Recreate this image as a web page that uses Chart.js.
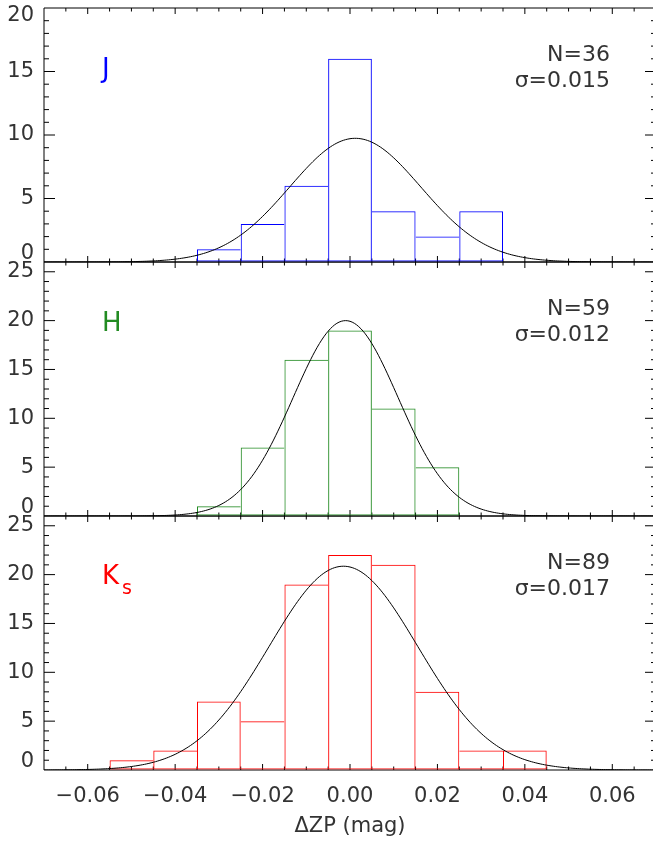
<!DOCTYPE html>
<html>
<head>
<meta charset="utf-8">
<script src="https://cdn.jsdelivr.net/npm/chart.js@4"></script>
<style>
  html, body { margin: 0; padding: 0; background: #fff; overflow: hidden; width: 653px; height: 842px; }
  #wrap { position: absolute; left: 0; top: 0; width: 656px; height: 850px; }
</style>
</head>
<body>
<div id="wrap"><canvas id="zp" width="656" height="850"></canvas></div>
<script>
// histogram bins (bin centres in mag) and counts per band
const jBins = [-0.03, -0.02, -0.01, 0.00, 0.01, 0.02, 0.03]
const jCounts = [1, 3, 6, 16, 4, 2, 4]
const hBins = [-0.03, -0.02, -0.01, 0.00, 0.01, 0.02]
const hCounts = [1, 7, 16, 19, 11, 5]
const kBins = [-0.05, -0.04, -0.03, -0.02, -0.01, 0.00, 0.01, 0.02, 0.03, 0.04]
const kCounts = [1, 2, 7, 5, 19, 22, 21, 8, 2, 2]

// gaussian fits: centre, sigma, peak height  (J, H, Ks)
const fitCentre = [0.0012, -0.0010, -0.0015]
const fitSigma = [0.015, 0.012, 0.017]
const fitPeak = [9.74, 20.0, 20.86]

const bandN = [36, 59, 89]
const bandColors = ['#0000ff', 'rgb(34,139,34)', '#ff0000']
const yMax = [20, 26, 26]

const xTickValues = [-0.06, -0.04, -0.02, 0.00, 0.02, 0.04, 0.06]
const xTickLabels = ['\u22120.06', '\u22120.04', '\u22120.02', '0.00', '0.02', '0.04', '0.06']
const yTickJ = [0, 5, 10, 15, 20]
const yTickHK = [0, 5, 10, 15, 20, 25]

const panelIds = ['yJ', 'yH', 'yK']
const FONT = '"DejaVu Sans", sans-serif'

function gaussCurve(i) {
    const pts = []
    for (let k = -140; k <= 140; k++) {
        const x = k * 0.0005
        const z = (x - fitCentre[i]) / fitSigma[i]
        pts.push({ x: x, y: fitPeak[i] * Math.exp(-0.5 * z * z) })
    }
    return pts
}

// one outline per shared bin edge: the taller bin draws it
function edgeWidths(counts) {
    return c => {
        const k = c.dataIndex, n = counts.length
        return {
            top: 1,
            bottom: 1,
            left: (k === 0 || counts[k] >= counts[k - 1]) ? 1 : 0,
            right: (k === n - 1 || counts[k] > counts[k + 1]) ? 1 : 0
        }
    }
}

function histSet(bins, counts, i) {
    return {
        type: 'bar',
        data: bins.map((b, k) => ({ x: b, y: counts[k] })),
        yAxisID: panelIds[i],
        backgroundColor: 'rgba(0,0,0,0)',
        borderColor: bandColors[i],
        borderWidth: edgeWidths(counts),
        borderSkipped: false,
        inflateAmount: 0,
        grouped: false,
        barPercentage: 1,
        categoryPercentage: 1
    }
}

function curveSet(i) {
    return {
        type: 'line',
        data: gaussCurve(i),
        yAxisID: panelIds[i],
        borderColor: '#000',
        borderWidth: 1,
        pointRadius: 0,
        tension: 0
    }
}

function yScale(max, ticks) {
    return {
        type: 'linear',
        position: 'left',
        stack: 'bands',
        stackWeight: 1,
        min: 0,
        max: max,
        afterBuildTicks: s => { s.ticks = ticks.map(v => ({ value: v })) },
        afterFit: s => { s.width = 44 },
        border: { display: false },
        grid: { display: true, drawOnChartArea: false, drawTicks: true, tickLength: 10, tickColor: 'rgba(0,0,0,0)' },
        ticks: {
            autoSkip: false,
            padding: 0,
            color: '#333',
            font: { family: FONT, size: 21, lineHeight: '16px' },
            // end labels pushed inside the panel
            callback: v => v === 0 ? ['0', ''] : (v === max ? ['', String(v)] : String(v))
        }
    }
}

// frame + inward tick marks for every panel
const framePlugin = {
    id: 'frame',
    beforeDatasetsDraw(chart) {
        const ctx = chart.ctx
        const xs = chart.scales.x
        const { left, right } = chart.chartArea
        ctx.save()
        ctx.strokeStyle = '#000'
        ctx.lineWidth = 1
        ctx.beginPath()
        panelIds.forEach((id, i) => {
            const s = chart.scales[id]
            ctx.moveTo(left, s.top); ctx.lineTo(right, s.top)
            ctx.moveTo(left, s.bottom); ctx.lineTo(right, s.bottom)
            for (let k = -13; k <= 13; k++) {
                const px = xs.getPixelForValue(k * 0.005)
                const len = k % 4 === 0 ? 6 : 3.5
                ctx.moveTo(px, s.bottom); ctx.lineTo(px, s.bottom - len)
                ctx.moveTo(px, s.top); ctx.lineTo(px, s.top + len)
            }
            for (let v = 1; v < yMax[i]; v++) {
                const py = s.getPixelForValue(v)
                const len = v % 5 === 0 ? 11 : 5
                ctx.moveTo(left, py); ctx.lineTo(left + len, py)
                ctx.moveTo(right, py); ctx.lineTo(right - len, py)
            }
        })
        const top = chart.scales.yJ.top, bottom = chart.scales.yK.bottom
        ctx.moveTo(left, top); ctx.lineTo(left, bottom)
        ctx.moveTo(right, top); ctx.lineTo(right, bottom)
        ctx.stroke()
        ctx.restore()
    },
    afterDatasetsDraw(chart) {
        const ctx = chart.ctx
        const { left, right } = chart.chartArea
        ctx.save()
        ctx.textBaseline = 'middle'
        panelIds.forEach((id, i) => {
            const s = chart.scales[id]
            // band name
            ctx.fillStyle = bandColors[i]
            ctx.textAlign = 'left'
            ctx.font = '26px ' + FONT
            if (i === 2) {
                ctx.fillText('K', left + 58, s.top + 61)
                const w = ctx.measureText('K').width
                ctx.font = '19px ' + FONT
                ctx.fillText('s', left + 58 + w + 3, s.top + 73)
            } else {
                ctx.fillText(i === 0 ? 'J' : 'H', left + 58, s.top + 62)
            }
            // sample size and width
            ctx.fillStyle = '#333'
            ctx.textAlign = 'right'
            ctx.font = '22px ' + FONT
            ctx.fillText('N=' + bandN[i], right - 46, s.top + 47)
            ctx.fillText('\u03c3=' + fitSigma[i].toFixed(3), right - 46, s.top + 73)
        })
        ctx.restore()
    }
}

const chart = new Chart(document.getElementById('zp'), {
    type: 'bar',
    data: {
        datasets: [
            curveSet(0), curveSet(1), curveSet(2),
            histSet(jBins, jCounts, 0),
            histSet(hBins, hCounts, 1),
            histSet(kBins, kCounts, 2)
        ]
    },
    options: {
        responsive: false,
        animation: false,
        devicePixelRatio: 1,
        layout: { padding: 0 },
        plugins: { legend: { display: false }, tooltip: { enabled: false } },
        scales: {
            x: {
                type: 'linear',
                position: 'bottom',
                offset: false,
                min: -0.07,
                max: 0.07,
                afterBuildTicks: s => { s.ticks = xTickValues.map(v => ({ value: v })) },
                afterFit: s => { s.height = 72 },
                border: { display: false },
                grid: { display: false, drawTicks: false, offset: false },
                ticks: {
                    autoSkip: false,
                    maxRotation: 0,
                    padding: 14,
                    color: '#333',
                    font: { family: FONT, size: 21 },
                    callback: (v, i) => xTickLabels[i]
                },
                title: {
                    display: true,
                    text: '\u0394ZP (mag)',
                    color: '#333',
                    font: { family: FONT, size: 21 },
                    padding: { top: 0, bottom: 3 }
                }
            },
            // stacked panels: the last one listed ends up on top
            yK: yScale(yMax[2], yTickHK),
            yH: yScale(yMax[1], yTickHK),
            yJ: yScale(yMax[0], yTickJ)
        }
    },
    plugins: [framePlugin]
})

// put the top of the first panel just below the page edge
document.getElementById('wrap').style.top = (8.3 - chart.chartArea.top) + 'px'
</script>
</body>
</html>
